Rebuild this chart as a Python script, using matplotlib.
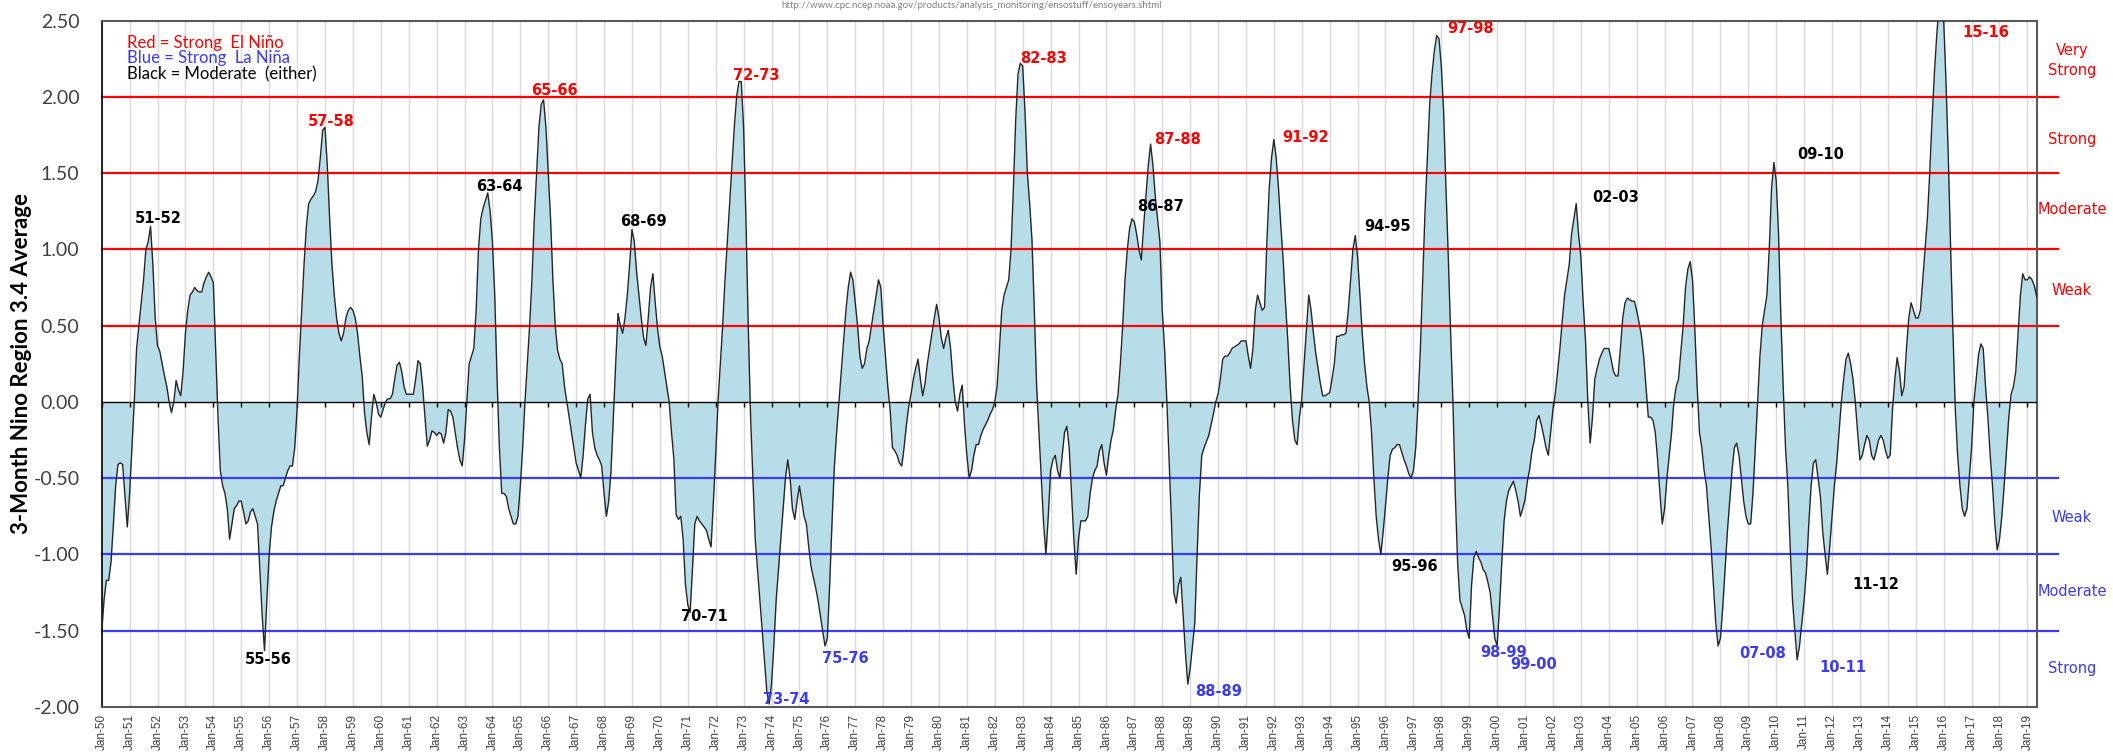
import matplotlib.pyplot as plt
import numpy as np

# 3-month running mean Nino 3.4 anomaly, one value per month (DJF, JFM, ... NDJ)
oni_1950s = [
    -1.51, -1.30, -1.17, -1.17, -1.05, -0.81, -0.55, -0.41, -0.40, -0.41, -0.62, -0.82,
    -0.60, -0.30, 0.00, 0.35, 0.50, 0.65, 0.80, 1.00, 1.05, 1.15, 0.90, 0.55,
    0.37, 0.33, 0.25, 0.17, 0.10, 0.00, -0.07, 0.00, 0.14, 0.08, 0.04, 0.20,
    0.45, 0.60, 0.70, 0.72, 0.75, 0.73, 0.72, 0.72, 0.78, 0.82, 0.85, 0.82,
    0.78, 0.35, -0.10, -0.45, -0.55, -0.60, -0.70, -0.90, -0.80, -0.70, -0.68, -0.65,
    -0.65, -0.72, -0.80, -0.78, -0.72, -0.70, -0.75, -0.80, -1.10, -1.40, -1.63, -1.30,
    -1.00, -0.82, -0.72, -0.65, -0.60, -0.55, -0.55, -0.50, -0.45, -0.42, -0.42, -0.30,
    -0.05, 0.30, 0.60, 0.90, 1.15, 1.30, 1.33, 1.35, 1.38, 1.45, 1.60, 1.78,
    1.80, 1.55, 1.20, 0.90, 0.70, 0.55, 0.45, 0.40, 0.45, 0.55, 0.60, 0.62,
    0.60, 0.55, 0.45, 0.30, 0.17, -0.07, -0.20, -0.28, -0.10, 0.05, 0.00, -0.08,
]
oni_1960s = [
    -0.10, -0.05, 0.00, 0.02, 0.02, 0.05, 0.15, 0.24, 0.26, 0.20, 0.10, 0.05,
    0.05, 0.05, 0.05, 0.15, 0.27, 0.25, 0.10, -0.10, -0.29, -0.25, -0.19, -0.20,
    -0.22, -0.20, -0.21, -0.27, -0.20, -0.05, -0.06, -0.10, -0.20, -0.30, -0.38, -0.42,
    -0.25, 0.00, 0.25, 0.30, 0.35, 0.60, 1.00, 1.20, 1.27, 1.32, 1.37, 1.25,
    1.05, 0.70, 0.15, -0.30, -0.60, -0.60, -0.62, -0.70, -0.75, -0.80, -0.80, -0.75,
    -0.55, -0.30, 0.00, 0.25, 0.50, 0.80, 1.20, 1.50, 1.80, 1.95, 1.98, 1.80,
    1.50, 1.20, 0.80, 0.50, 0.34, 0.28, 0.25, 0.10, 0.00, -0.10, -0.20, -0.30,
    -0.40, -0.45, -0.50, -0.35, -0.15, 0.02, 0.05, -0.20, -0.30, -0.35, -0.38, -0.42,
    -0.60, -0.75, -0.65, -0.45, -0.10, 0.25, 0.58, 0.50, 0.45, 0.55, 0.70, 0.90,
    1.13, 1.05, 0.85, 0.70, 0.55, 0.42, 0.37, 0.55, 0.75, 0.84, 0.65, 0.48,
]
oni_1970s = [
    0.36, 0.30, 0.20, 0.10, 0.00, -0.20, -0.37, -0.74, -0.77, -0.75, -0.90, -1.20,
    -1.33, -1.38, -1.10, -0.80, -0.75, -0.78, -0.80, -0.82, -0.84, -0.90, -0.95, -0.66,
    -0.35, 0.00, 0.25, 0.50, 0.80, 1.05, 1.30, 1.55, 1.80, 2.00, 2.10, 2.10,
    1.80, 1.20, 0.50, -0.10, -0.50, -0.90, -1.10, -1.30, -1.50, -1.70, -1.90, -1.98,
    -1.85, -1.60, -1.30, -1.10, -0.90, -0.70, -0.50, -0.38, -0.50, -0.70, -0.77, -0.65,
    -0.55, -0.65, -0.75, -0.80, -0.95, -1.08, -1.15, -1.22, -1.30, -1.40, -1.50, -1.60,
    -1.55, -1.20, -0.80, -0.43, -0.20, 0.00, 0.20, 0.40, 0.60, 0.75, 0.85, 0.80,
    0.65, 0.50, 0.30, 0.22, 0.25, 0.35, 0.40, 0.50, 0.60, 0.70, 0.80, 0.75,
    0.50, 0.30, 0.10, -0.05, -0.30, -0.32, -0.35, -0.40, -0.42, -0.30, -0.15, -0.03,
    0.05, 0.15, 0.22, 0.28, 0.15, 0.04, 0.12, 0.25, 0.35, 0.45, 0.55, 0.64,
]
oni_1980s = [
    0.55, 0.42, 0.35, 0.42, 0.47, 0.35, 0.15, 0.00, -0.06, 0.05, 0.11, -0.15,
    -0.35, -0.50, -0.45, -0.35, -0.28, -0.28, -0.22, -0.18, -0.15, -0.12, -0.08, -0.05,
    0.00, 0.10, 0.35, 0.60, 0.70, 0.75, 0.80, 1.00, 1.40, 1.85, 2.15, 2.22,
    2.20, 1.90, 1.50, 1.30, 1.06, 0.60, 0.10, -0.20, -0.50, -0.80, -1.00, -0.75,
    -0.45, -0.38, -0.35, -0.45, -0.50, -0.35, -0.20, -0.16, -0.30, -0.60, -0.90, -1.13,
    -0.90, -0.78, -0.78, -0.78, -0.75, -0.60, -0.50, -0.45, -0.42, -0.32, -0.28, -0.40,
    -0.48, -0.35, -0.25, -0.18, -0.05, 0.05, 0.25, 0.50, 0.80, 1.00, 1.14, 1.20,
    1.18, 1.10, 1.00, 0.93, 1.15, 1.35, 1.55, 1.69, 1.55, 1.35, 1.20, 1.05,
    0.60, 0.35, 0.00, -0.40, -0.80, -1.25, -1.32, -1.20, -1.15, -1.40, -1.65, -1.85,
    -1.75, -1.60, -1.45, -1.00, -0.60, -0.35, -0.30, -0.26, -0.22, -0.15, -0.08, 0.00,
]
oni_1990s = [
    0.05, 0.15, 0.28, 0.30, 0.30, 0.32, 0.35, 0.36, 0.37, 0.38, 0.40, 0.40,
    0.40, 0.30, 0.22, 0.35, 0.60, 0.70, 0.65, 0.60, 0.62, 1.05, 1.40, 1.60,
    1.72, 1.60, 1.40, 1.15, 0.93, 0.65, 0.40, 0.10, -0.12, -0.25, -0.28, -0.10,
    0.02, 0.25, 0.48, 0.70, 0.60, 0.45, 0.32, 0.22, 0.12, 0.04, 0.04, 0.05,
    0.06, 0.15, 0.25, 0.43, 0.43, 0.44, 0.44, 0.45, 0.60, 0.80, 1.00, 1.09,
    0.95, 0.70, 0.45, 0.25, 0.10, 0.00, -0.20, -0.50, -0.75, -0.90, -1.00, -0.85,
    -0.68, -0.50, -0.35, -0.31, -0.30, -0.28, -0.28, -0.33, -0.38, -0.42, -0.47, -0.50,
    -0.45, -0.30, 0.00, 0.35, 0.80, 1.25, 1.60, 1.95, 2.15, 2.30, 2.40, 2.38,
    2.20, 1.90, 1.40, 0.95, 0.45, 0.00, -0.60, -1.05, -1.30, -1.35, -1.40, -1.50,
    -1.55, -1.20, -1.02, -0.98, -1.02, -1.05, -1.10, -1.12, -1.18, -1.25, -1.40, -1.55,
]
oni_2000s = [
    -1.60, -1.35, -1.05, -0.78, -0.65, -0.58, -0.55, -0.52, -0.58, -0.65, -0.75, -0.70,
    -0.64, -0.52, -0.44, -0.32, -0.25, -0.12, -0.09, -0.15, -0.22, -0.30, -0.35, -0.20,
    -0.05, 0.05, 0.20, 0.35, 0.53, 0.70, 0.80, 0.90, 1.10, 1.20, 1.30, 1.10,
    0.95, 0.65, 0.40, 0.00, -0.27, -0.10, 0.15, 0.22, 0.28, 0.32, 0.35, 0.35,
    0.35, 0.28, 0.20, 0.17, 0.17, 0.35, 0.55, 0.65, 0.68, 0.67, 0.66, 0.66,
    0.60, 0.52, 0.44, 0.30, 0.10, -0.10, -0.10, -0.12, -0.20, -0.38, -0.60, -0.80,
    -0.70, -0.50, -0.35, -0.20, 0.00, 0.10, 0.15, 0.33, 0.50, 0.75, 0.87, 0.92,
    0.80, 0.48, 0.10, -0.20, -0.30, -0.45, -0.55, -0.75, -0.95, -1.20, -1.45, -1.60,
    -1.55, -1.35, -1.10, -0.85, -0.65, -0.45, -0.30, -0.27, -0.35, -0.50, -0.65, -0.75,
    -0.80, -0.80, -0.60, -0.30, 0.00, 0.30, 0.50, 0.60, 0.70, 1.00, 1.40, 1.57,
]
oni_2010s = [
    1.45, 1.10, 0.55, 0.10, -0.30, -0.55, -0.95, -1.30, -1.50, -1.69, -1.60, -1.45,
    -1.30, -1.10, -0.80, -0.55, -0.40, -0.38, -0.50, -0.62, -0.85, -1.00, -1.13, -0.95,
    -0.75, -0.55, -0.40, -0.20, 0.00, 0.15, 0.28, 0.32, 0.25, 0.15, 0.00, -0.20,
    -0.38, -0.35, -0.28, -0.22, -0.25, -0.35, -0.38, -0.32, -0.25, -0.22, -0.25, -0.32,
    -0.37, -0.35, -0.05, 0.15, 0.29, 0.20, 0.04, 0.10, 0.35, 0.55, 0.65, 0.60,
    0.55, 0.55, 0.60, 0.80, 1.00, 1.20, 1.50, 1.85, 2.15, 2.40, 2.60, 2.62,
    2.50, 2.10, 1.60, 1.00, 0.45, -0.05, -0.35, -0.55, -0.70, -0.75, -0.70, -0.50,
    -0.30, 0.00, 0.15, 0.31, 0.38, 0.35, 0.10, -0.10, -0.35, -0.55, -0.80, -0.97,
    -0.90, -0.75, -0.55, -0.33, -0.10, 0.05, 0.10, 0.20, 0.45, 0.70, 0.84, 0.80,
    0.80, 0.82, 0.80, 0.76, 0.69,
]

# event labels: text, year position, value position, kind
event_names = ["51-52", "55-56", "57-58", "63-64", "65-66", "68-69", "70-71", "72-73",
               "73-74", "75-76", "82-83", "86-87", "87-88", "88-89", "91-92", "94-95",
               "95-96", "97-98", "98-99", "99-00", "02-03", "07-08", "09-10", "10-11",
               "11-12", "15-16"]
event_x = [1952.01, 1955.95, 1958.21, 1964.24, 1966.21, 1969.42, 1971.59, 1973.47,
           1974.54, 1976.63, 1983.74, 1987.95, 1988.56, 1990.03, 1993.15, 1996.08,
           1997.04, 1999.05, 2000.22, 2001.32, 2004.25, 2009.52, 2011.58, 2012.38,
           2013.55, 2017.52]
event_y = [1.20, -1.69, 1.84, 1.41, 2.04, 1.18, -1.41, 2.14,
           -1.95, -1.68, 2.25, 1.28, 1.72, -1.90, 1.73, 1.15,
           -1.08, 2.45, -1.64, -1.72, 1.34, -1.65, 1.62, -1.74,
           -1.20, 2.42]
event_kind = ["mod", "mod", "nino", "mod", "nino", "mod", "mod", "nino",
              "nina", "nina", "nino", "mod", "nino", "nina", "nino", "mod",
              "mod", "nino", "nina", "nina", "mod", "nina", "mod", "nina",
              "mod", "nino"]

nino_levels = [0.5, 1.0, 1.5, 2.0]
nina_levels = [-0.5, -1.0, -1.5]
nino_classes = ["Weak", "Moderate", "Strong", "Very\nStrong"]
nino_class_y = [0.73, 1.26, 1.72, 2.24]
nina_classes = ["Weak", "Moderate", "Strong"]
nina_class_y = [-0.76, -1.24, -1.75]

years = list(range(1950, 2020))
year_labels = ["Jan-%02d" % (y % 100) for y in years]

red = '#ff0000'
blue = '#3a3aff'
kind_colors = {"mod": 'black', "nino": red, "nina": blue}

plt.rcParams['font.family'] = ['Lato', 'DejaVu Sans']

oni = np.array(oni_1950s + oni_1960s + oni_1970s + oni_1980s + oni_1990s + oni_2000s + oni_2010s)
t = 1950 + np.arange(len(oni)) / 12.0

fig = plt.figure(figsize=(21.13, 7.52), dpi=100)
ax = fig.add_axes([101.7 / 2113, 1 - 707 / 752, 1935 / 2113, 686.5 / 752])

x_end = 2020.09
ax.fill_between(t, oni, 0, color='#b7dee8', lw=0, zorder=1)
for lv in nino_levels:
    ax.plot([1950, x_end], [lv, lv], color=red, lw=1.6, clip_on=False, zorder=2)
for lv in nina_levels:
    ax.plot([1950, x_end], [lv, lv], color=blue, lw=1.6, clip_on=False, zorder=2)
ax.axhline(0, color='black', lw=1, zorder=3)
ax.vlines(years, -0.035, 0, color='black', lw=1, zorder=3)
ax.plot(t, oni, color='#262626', lw=1.0, zorder=4)

ax.set_xlim(1950, t[-1])
ax.set_ylim(-2.0, 2.5)
ax.set_xticks(years)
ax.set_xticklabels(year_labels, rotation=90, fontsize=8.5, color='#404040',
                   family=['Liberation Sans Narrow', 'Liberation Sans'])
ax.set_yticks(np.arange(-2.0, 2.51, 0.5))
ax.set_yticklabels(["%.2f" % v for v in np.arange(-2.0, 2.51, 0.5)], fontsize=14, color='#404040')
ax.tick_params(axis='x', length=0, pad=5)
ax.tick_params(axis='y', length=0, pad=16)
ax.grid(axis='x', color='#d9d9d9', lw=1, zorder=0)
ax.set_axisbelow(True)

for side in ['top', 'right', 'bottom']:
    ax.spines[side].set_color('#595959')
    ax.spines[side].set_linewidth(1.5)
ax.spines['left'].set_color('black')
ax.spines['left'].set_linewidth(1.2)

fig.text(22 / 2113, 1 - 364 / 752, "3-Month Nino Region 3.4 Average", rotation=90,
         ha='center', va='center', fontsize=16, fontweight='bold')

# event labels
for name, x, y, k in zip(event_names, event_x, event_y, event_kind):
    ax.text(x, y, name, color=kind_colors[k], fontsize=10.5, fontweight='bold',
            family='DejaVu Sans', ha='center', va='center', zorder=5)

# strength classes on the right
for name, y in zip(nino_classes, nino_class_y):
    ax.text(2020.6, y, name, color=red, fontsize=10.5, family='DejaVu Sans',
            ha='center', va='center', linespacing=1.4)
for name, y in zip(nina_classes, nina_class_y):
    ax.text(2020.6, y, name, color=blue, fontsize=10.5, family='DejaVu Sans',
            ha='center', va='center')

# key in the top left corner
ax.text(0.013, 0.967, "Red = Strong  El Niño", color=red, fontsize=12,
        transform=ax.transAxes, va='center')
ax.text(0.013, 0.945, "Blue = Strong  La Niña", color=blue, fontsize=12,
        transform=ax.transAxes, va='center')
ax.text(0.013, 0.922, "Black = Moderate  (either)", color='black', fontsize=12,
        transform=ax.transAxes, va='center')

fig.text(781 / 2113, 0.999, "http://www.cpc.ncep.noaa.gov/products/analysis_monitoring/ensostuff/ensoyears.shtml",
         fontsize=7, color='#808080', ha='left', va='top')

fig.savefig("out.png", dpi=100)
